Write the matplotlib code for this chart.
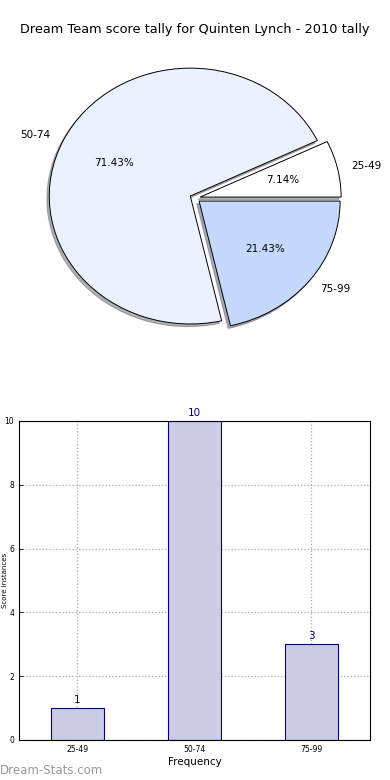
import matplotlib
matplotlib.use("Agg")
import matplotlib.pyplot as plt

title = "Dream Team score tally for Quinten Lynch - 2010 tally"
categories = ["25-49", "50-74", "75-99"]
counts = [1, 10, 3]
pie_colors = ["#ffffff", "#ebf1fe", "#c5d9fe"]

fig = plt.figure(figsize=(3.9, 7.8), dpi=100)
fig.text(0.5, 0.962, title, ha="center", va="center", fontsize=9.3)

# Pie chart
ax1 = fig.add_axes([0.048, 0.541, 0.904, 0.410])
wedges, texts, autotexts = ax1.pie(
    counts, labels=categories, colors=pie_colors, explode=[0.037] * 3,
    autopct="%1.2f%%", shadow={"ox": -0.012, "oy": -0.015, "shade": 0.6},
    startangle=0, counterclock=True, labeldistance=1.1, pctdistance=0.6,
    wedgeprops={"edgecolor": "black", "linewidth": 0.7},
    textprops={"fontsize": 7.5})
ax1.set_aspect("auto")
ax1.set_xlim(-1.25, 1.25)
ax1.set_ylim(-1.25, 1.25)

# Bar chart
ax2 = fig.add_axes([0.0487, 0.0513, 0.9, 0.409])
x = list(range(len(categories)))
bars = ax2.bar(x, counts, width=0.45, color="#ccccE6", edgecolor="navy",
               linewidth=0.8, zorder=2)
for xi, c in zip(x, counts):
    ax2.text(xi, c + 0.1, str(c), ha="center", va="bottom", color="navy",
             fontsize=7.5)
ax2.set_xlim(-0.5, 2.5)
ax2.set_ylim(0, 10)
ax2.set_xticks(x)
ax2.set_xticklabels(categories)
ax2.set_yticks(range(0, 11, 2))
ax2.tick_params(labelsize=5.5, direction="in", length=3, width=0.6)
ax2.grid(True, linestyle=":", color="#aaaaaa", linewidth=0.9, zorder=0)
ax2.set_axisbelow(True)
ax2.set_xlabel("Frequency", fontsize=7.5, labelpad=2)
ax2.set_ylabel("Score Instances", fontsize=5)
ax2.yaxis.set_label_coords(-0.03, 0.5)
for s in ax2.spines.values():
    s.set_linewidth(0.8)

fig.text(0.0, 0.004, "Dream-Stats.com", color="#999999", fontsize=8.5,
         ha="left", va="bottom")

fig.savefig("out.png", dpi=100)
